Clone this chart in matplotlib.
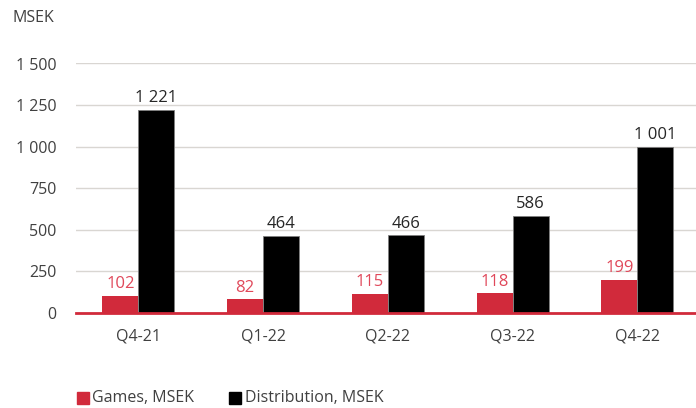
import matplotlib
matplotlib.use("Agg")
import matplotlib.pyplot as plt
import numpy as np
from matplotlib.patches import Rectangle

categories = ["Q4-21", "Q1-22", "Q2-22", "Q3-22", "Q4-22"]
games = [102, 82, 115, 118, 199]
distribution = [1221, 464, 466, 586, 1001]
yticks = [0, 250, 500, 750, 1000, 1250, 1500]
series_names = ["Games, MSEK", "Distribution, MSEK"]

RED = "#d12a3b"
RED_TXT = "#e0485a"
GRID = "#d9d6d2"
TXT = "#404040"

plt.rcParams['font.family'] = ['Open Sans', 'DejaVu Sans']

def fmt(v):
    return f"{v:,}".replace(",", " ")

fig = plt.figure(figsize=(6.96, 4.08), dpi=100)
ax = fig.add_axes([76/696, (408-313)/408, 1 - 76/696, (313-63.5)/408])

x = np.arange(len(categories))
w = 0.288
ax.bar(x - w/2, games, width=w, color=RED, zorder=3)
ax.bar(x + w/2, distribution, width=w, color="black", edgecolor="#7f7f7f", linewidth=0.6, zorder=3)

for xi, g, d in zip(x, games, distribution):
    ax.text(xi - w/2, g + 22, fmt(g), ha="center", va="bottom", color=RED_TXT, fontsize=12)
    ax.text(xi + w/2, d + 22, fmt(d), ha="center", va="bottom", color="#262626", fontsize=12)

ax.set_xlim(-0.5, 4.47)
ax.set_ylim(0, 1500)
ax.set_yticks(yticks)
ax.set_yticklabels([fmt(v) for v in yticks], fontsize=11.5, color=TXT)
ax.set_xticks(x)
ax.set_xticklabels(categories, fontsize=11.5, color=TXT)
ax.tick_params(axis="both", length=0)
ax.tick_params(axis="y", pad=14)
ax.tick_params(axis="x", pad=11)
for s in ax.spines.values():
    s.set_visible(False)
ax.yaxis.grid(True, color=GRID, linewidth=1, zorder=0)
ax.set_axisbelow(True)
ax.axhline(0, color=RED, linewidth=2, zorder=4, clip_on=False)

fig.text(12/696, 1 - 18/408, "MSEK", fontsize=11.5, color=TXT, va="center", ha="left")

# legend
fig.patches.append(Rectangle((77/696, 1 - 404/408), 12/696, 12/408, color=RED, transform=fig.transFigure))
fig.text(92/696, 1 - 398/408, series_names[0], fontsize=11.5, color=TXT, va="center")
fig.patches.append(Rectangle((229/696, 1 - 404/408), 12/696, 12/408, color="black", transform=fig.transFigure))
fig.text(245/696, 1 - 398/408, series_names[1], fontsize=11.5, color=TXT, va="center")

fig.savefig("out.png", dpi=100)
